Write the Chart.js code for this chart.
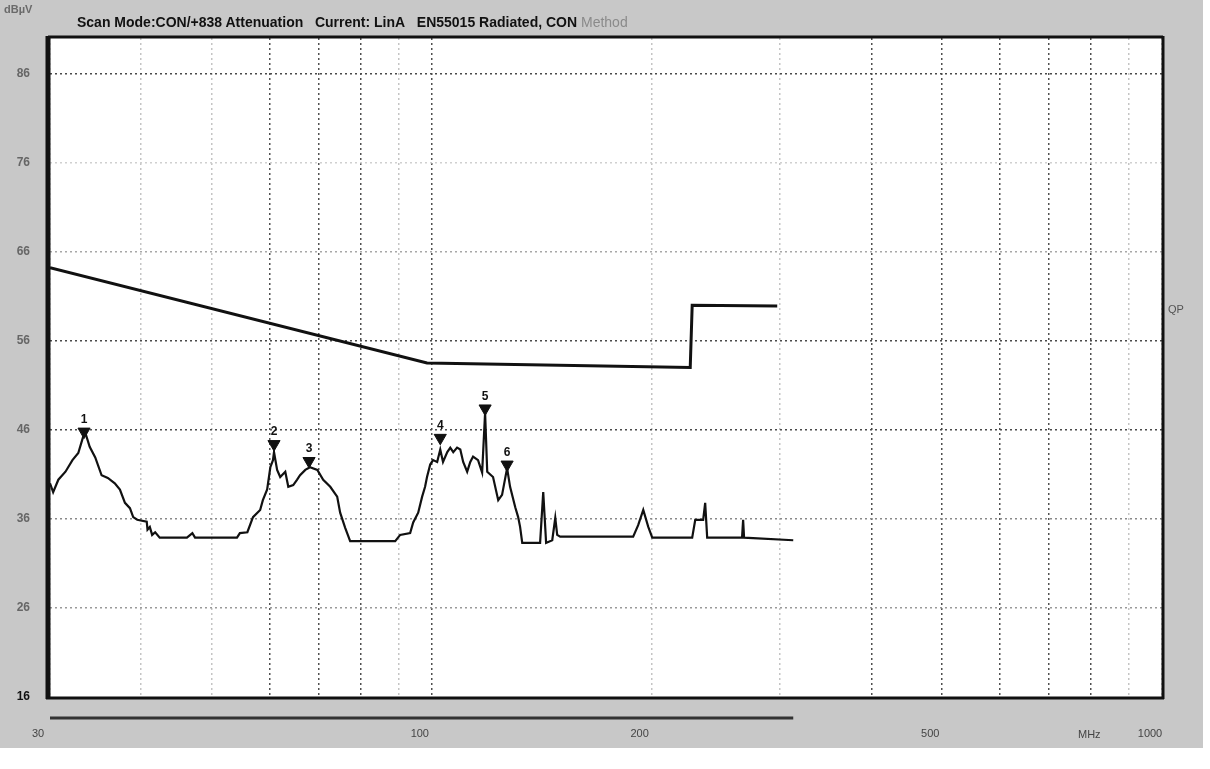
<!DOCTYPE html>
<html><head><meta charset="utf-8">
<script src="https://cdn.jsdelivr.net/npm/chart.js@4.4.0/dist/chart.umd.min.js"></script>
<style>
html,body{margin:0;padding:0;background:#fff;width:1210px;height:769px;overflow:hidden;}
#wrap{position:relative;width:1210px;height:769px;}
canvas{position:absolute;left:0;top:0;}
.lbl{position:absolute;font-family:'Liberation Sans Narrow','Liberation Sans',Arial,sans-serif;white-space:nowrap;}
</style></head><body>
<div id="wrap">
<canvas id="c" width="1210" height="769"></canvas>
<div class="lbl" style="left:4px;top:3px;font-size:11px;color:#6a6a6a;font-weight:bold">dBµV</div>
<div class="lbl" style="left:77px;top:14px;font-size:14px;font-weight:bold;color:#111;letter-spacing:0px">Scan Mode:CON/+838 Attenuation&nbsp;&nbsp; Current: LinA&nbsp;&nbsp; EN55015 Radiated, CON <span style="color:#8a8a8a;font-weight:normal">Method</span></div>
<div class="lbl" style="left:1168px;top:303px;font-size:11px;color:#555">QP</div>
<div class="lbl" style="left:1078px;top:728px;font-size:11px;color:#444">MHz</div>
</div>
<script>
// ---- data ----
const traceFreq = [30.0,30.3,30.8,31.5,32.2,32.8,33.3,33.5,34.0,34.6,35.3,36.0,36.8,37.4,38.0,38.6,39.0,39.5,40.7,40.8,41.1,41.4,41.8,42.4,46.2,47.0,47.4,54.1,54.6,55.9,56.9,58.2,58.7,59.5,60.1,60.6,60.8,61.4,62.0,63.0,63.6,64.6,65.4,66.0,67.1,68.1,69.7,71.0,72.6,74.2,74.9,76.1,77.3,89.1,90.5,93.4,94.3,95.8,97.0,97.9,98.5,99.5,100.4,101.7,102.7,103.6,105.0,106.0,107.0,108.3,109.4,110.4,111.8,112.9,113.9,115.7,117.2,118.3,119.1,121.3,123.3,124.8,126.8,128.0,130.1,131.3,132.1,133.0,140.7,142.1,143.4,146.2,147.6,148.5,149.9,188.7,191.7,194.8,197.9,200.4,227.3,229.5,235.3,236.8,238.3,266.0,266.9,267.7,312.6];
const traceLevel = [40.0,39.0,40.4,41.3,42.6,43.4,45.2,45.8,44.1,42.9,40.9,40.6,40.0,39.3,37.8,37.2,36.2,35.9,35.7,34.8,35.1,34.2,34.5,33.9,33.9,34.4,33.9,33.9,34.4,34.5,36.2,37.0,38.1,39.3,41.8,42.6,43.5,41.5,40.7,41.3,39.6,39.8,40.4,40.9,41.5,41.8,41.5,40.4,39.6,38.5,36.7,35.0,33.5,33.5,34.2,34.4,35.6,36.7,38.5,39.6,40.7,42.1,42.6,42.4,43.8,42.4,43.5,44.0,43.5,44.0,43.8,42.4,41.3,42.4,43.0,42.6,41.2,47.9,41.3,40.7,38.1,38.7,41.7,39.6,37.3,36.2,35.1,33.3,33.3,39.0,33.3,33.6,36.1,34.2,34.0,34.0,35.3,37.0,35.1,33.9,33.9,35.9,35.9,37.8,33.9,33.9,35.9,33.9,33.6];
const limitFreq = [30, 98.5, 225.9, 227.3, 297.2];
const limitLevel = [64.2, 53.5, 53.0, 60.0, 59.9];
const markerFreq = [33.4, 60.8, 67.9, 102.7, 118.3, 126.8];
const markerLevel = [45.8, 44.4, 42.5, 45.1, 48.4, 42.1];
const markerLabels = ['1','2','3','4','5','6'];
const yTicks = [16,26,36,46,56,66,76,86];
const xGridValues = [30,40,50,60,70,80,90,100,200,300,400,500,600,700,800,900,1000];
const xTickLabels = [30,100,200,500,1000];

// ---- styling ----
const darkX = [60,70,80,100,400,500,600,700,800];
const yGridColor = {86:'#4a4a4a',76:'#d0d0d0',66:'#a8a8a8',56:'#4a4a4a',46:'#4a4a4a',36:'#8a8a8a',26:'#9a9a9a'};
const pts = (xs, ys) => xs.map((x,i)=>({x:x, y:ys[i]}));

const framePlugin = {
  id:'frame',
  beforeDraw(chart){
    const {ctx, chartArea:a} = chart;
    ctx.save();
    ctx.fillStyle='#c8c8c8';
    ctx.fillRect(0,0,1203,748);
    ctx.fillStyle='#fff';
    ctx.fillRect(a.left,a.top,a.right-a.left,a.bottom-a.top);
    ctx.restore();
  },
  afterDatasetsDraw(chart){
    const {ctx, chartArea:a} = chart;
    ctx.save();
    ctx.strokeStyle='#111';
    ctx.lineWidth=5; ctx.beginPath(); ctx.moveTo(a.left-2,a.top-2); ctx.lineTo(a.left-2,a.bottom+2); ctx.stroke();
    ctx.lineWidth=3; ctx.beginPath(); ctx.moveTo(a.left-2,a.top-1); ctx.lineTo(a.right+1,a.top-1); ctx.stroke();
    ctx.beginPath(); ctx.moveTo(a.right+1,a.top-2); ctx.lineTo(a.right+1,a.bottom+2); ctx.stroke();
    ctx.beginPath(); ctx.moveTo(a.left-4,a.bottom+1); ctx.lineTo(a.right+2,a.bottom+1); ctx.stroke();
    // scan range bar
    const xs = chart.scales.x;
    ctx.strokeStyle='#333'; ctx.lineWidth=3;
    ctx.beginPath(); ctx.moveTo(xs.getPixelForValue(traceFreq[0]), a.bottom+21); ctx.lineTo(xs.getPixelForValue(traceFreq[traceFreq.length-1]), a.bottom+21); ctx.stroke();
    // marker numbers
    const meta = chart.getDatasetMeta(2);
    ctx.fillStyle='#111';
    ctx.font='bold 12px "Liberation Sans Narrow","Liberation Sans",Arial';
    ctx.textAlign='center'; ctx.textBaseline='bottom';
    meta.data.forEach((el,i)=>{ ctx.fillText(markerLabels[i], el.x, el.y-6); });
    ctx.restore();
  }
};

new Chart(document.getElementById('c'), {
  type:'line',
  data:{
    datasets:[
      {label:'Trace', data:pts(traceFreq,traceLevel), borderColor:'#111', borderWidth:2.2, pointRadius:0, tension:0, fill:false},
      {label:'Limit', data:pts(limitFreq,limitLevel), borderColor:'#111', borderWidth:3, pointRadius:0, tension:0, fill:false},
      {label:'Markers', data:pts(markerFreq,markerLevel), showLine:false, pointStyle:'triangle', rotation:180, pointRadius:7, pointBackgroundColor:'#111', pointBorderColor:'#111', pointBorderWidth:1}
    ]
  },
  options:{
    responsive:false, animation:false,
    layout:{padding:{top:38,right:48,bottom:0,left:0}},
    plugins:{legend:{display:false}, tooltip:{enabled:false}},
    scales:{
      x:{
        type:'logarithmic', min:30, max:1000,
        afterBuildTicks:s=>{ s.ticks = xGridValues.map(v=>({value:v})); },
        afterFit:s=>{ s.height = 72; },
        grid:{drawTicks:false, lineWidth:1.5, color:c=> darkX.includes(c.tick && c.tick.value) ? '#505050' : '#c4c4c4'},
        border:{display:false, dash:[2,3]},
        ticks:{autoSkip:false, maxRotation:0, padding:30, labelOffset:-12, color:'#444',
          font:{family:'"Liberation Sans Narrow","Liberation Sans",Arial', size:11},
          callback:v=> xTickLabels.includes(v) ? String(v) : ''}
      },
      y:{
        type:'linear', min:16, max:90,
        afterBuildTicks:s=>{ s.ticks = yTicks.map(v=>({value:v})); },
        afterFit:s=>{ s.width = 50; },
        grid:{drawTicks:false, lineWidth:1.5, color:c=> yGridColor[c.tick && c.tick.value] || 'rgba(0,0,0,0)'},
        border:{display:false, dash:[2,3]},
        ticks:{padding:20, color:c=> (c.tick && c.tick.value===16) ? '#111' : '#666',
          font:{family:'"Liberation Sans Narrow","Liberation Sans",Arial', size:12, weight:'bold'},
          callback:v=> String(v)}
      }
    }
  },
  plugins:[framePlugin]
});
</script>
</body></html>
